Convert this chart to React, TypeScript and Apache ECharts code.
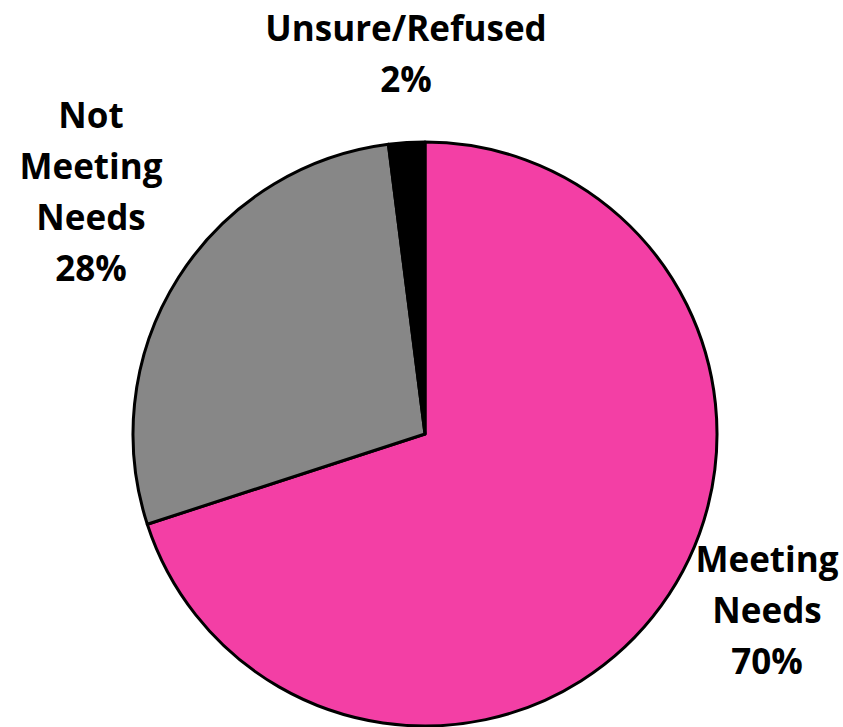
import React, { useEffect, useRef } from "react";
import * as echarts from "echarts";

const categories = ["Meeting\nNeeds", "Not\nMeeting\nNeeds", "Unsure/Refused"];
const values = [70, 28, 2];
const colors = ["#F33FA5", "#878787", "#000000"];
// label anchor positions (layout only)
const labelPos = [
  [767, 609],
  [91, 191],
  [406, 53],
];

export default function App() {
  const ref = useRef<HTMLDivElement>(null);
  useEffect(() => {
    document.body.style.margin = "0";
    const chart = echarts.init(ref.current!, null, { renderer: "svg" });
    chart.setOption({
      animation: false,
      backgroundColor: "#ffffff",
      series: [
        {
          type: "pie",
          center: [425, 434],
          radius: 292,
          startAngle: 90,
          clockwise: true,
          data: categories.map((c, i) => ({
            name: c,
            value: values[i],
            itemStyle: { color: colors[i] },
          })),
          itemStyle: { borderColor: "#000000", borderWidth: 3 },
          label: {
            show: true,
            position: "outside",
            formatter: (p: any) => `${p.name}\n${p.value}%`,
            fontFamily: "Open Sans",
            fontWeight: "bold",
            fontSize: 35,
            lineHeight: 51,
            color: "#000000",
            align: "center",
            overflow: "none",
            width: 400,
          },
          labelLine: { show: false },
          labelLayout: (params: any) => {
            const pos = labelPos[params.dataIndex];
            return { x: pos[0], y: pos[1], align: "center", verticalAlign: "middle" };
          },
          emphasis: { disabled: true },
        },
      ],
    });
    return () => chart.dispose();
  }, []);
  return <div ref={ref} style={{ width: 843, height: 727 }} />;
}
